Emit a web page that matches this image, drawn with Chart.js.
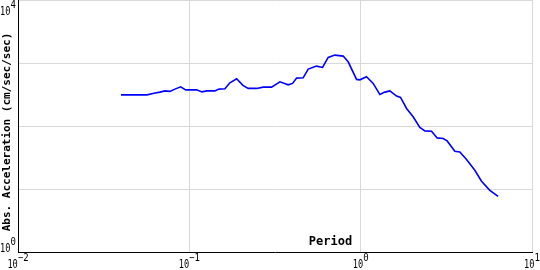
<!DOCTYPE html>
<html>
<head>
<meta charset="utf-8">
<script src="https://cdn.jsdelivr.net/npm/chart.js@4.4.1/dist/chart.umd.min.js"></script>
<style>
    html, body { margin: 0; padding: 0; background: #ffffff; }
    #wrap { width: 540px; height: 270px; }
</style>
</head>
<body>
<div id="wrap"><canvas id="spectrum" width="540" height="270"></canvas></div>
<script>
// periodo (sec) y aceleracion absoluta (cm/sec/sec)
const periods = [
    0.0399, 0.0566, 0.0622, 0.0674, 0.0720, 0.0770, 0.0824, 0.0890, 0.0952, 0.1103,
    0.1184, 0.1262, 0.1410, 0.1489, 0.1613, 0.1725, 0.1888, 0.2055, 0.2206, 0.2470,
    0.2699, 0.3021, 0.3378, 0.3776, 0.4005, 0.4227, 0.4618, 0.4940, 0.5528, 0.5993,
    0.6462, 0.7071, 0.7906, 0.8454, 0.9465, 0.9892, 1.082, 1.183, 1.294, 1.384,
    1.481, 1.620, 1.709, 1.853, 2.024, 2.215, 2.370, 2.593, 2.795, 3.029,
    3.197, 3.545, 3.792, 4.149, 4.638, 5.075, 5.674, 6.341
];
const accel = [
    312, 312, 332, 345, 361, 354, 385, 418, 375, 375,
    348, 361, 361, 385, 389, 485, 561, 441, 395, 395,
    414, 414, 503, 450, 474, 575, 582, 800, 893, 851,
    1227, 1335, 1287, 1045, 549, 541, 604, 474, 317, 345,
    361, 298, 284, 190, 140, 94.7, 83.6, 82.7, 64.7, 63.3,
    58.0, 39.8, 38.7, 29.3, 19.8, 13.3, 9.5, 7.65
];

// ticks (potencias de 10)
const xTickExp = [-2, -1, 0, 1];
const yTickExp = [0, 1, 2, 3, 4];
const yLabelExp = [0, 4]; // solo se rotulan los extremos

const xTitle = "Period";
const yTitle = "Abs. Acceleration (cm/sec/sec)";

const monoFont = "'DejaVu Sans Mono', monospace";

// dibuja "10" + exponente en pequeño
function drawPow(ctx, x, y, exp, align) {
    ctx.save();
    ctx.textBaseline = "alphabetic";
    ctx.textAlign = "left";
    ctx.fillStyle = "#000000";
    const sx = 0.72;
    const ex = 0.9;
    ctx.font = "12px " + monoFont;
    const baseW = ctx.measureText("10").width * sx;
    ctx.font = "10px " + monoFont;
    const expTxt = String(exp).replace("-", "\u2212");
    const expW = ctx.measureText(expTxt).width * ex;
    const total = baseW + expW;
    let left = x;
    if (align === "center") left = x - total / 2;
    if (align === "right") left = x - total;

    ctx.save();
    ctx.translate(left, y);
    ctx.scale(sx, 1);
    ctx.font = "12px " + monoFont;
    ctx.fillText("10", 0, 0);
    ctx.restore();

    ctx.save();
    ctx.translate(left + baseW, y - 7);
    ctx.scale(ex, 1);
    ctx.font = "10px " + monoFont;
    ctx.fillText(expTxt, 0, 0);
    ctx.restore();
    ctx.restore();
}

const labelsPlugin = {
    id: "labelsPlugin",
    afterDraw(chart) {
        const ctx = chart.ctx;
        const xs = chart.scales.x;
        const ys = chart.scales.y;

        // rotulos eje x
        xTickExp.forEach((e) => {
            drawPow(ctx, xs.getPixelForValue(Math.pow(10, e)), 268, e, "center");
        });

        // rotulos eje y (el de arriba queda empujado hacia abajo)
        yLabelExp.forEach((e) => {
            let py = ys.getPixelForValue(Math.pow(10, e));
            if (py < 15) py = 15;
            drawPow(ctx, 0, py, e, "left");
        });

        ctx.save();
        ctx.fillStyle = "#000000";
        ctx.font = "bold 12px " + monoFont;
        ctx.textAlign = "center";
        ctx.textBaseline = "middle";
        ctx.fillText(xTitle, 330.5, 242);

        ctx.translate(7.5, 132);
        ctx.rotate(-Math.PI / 2);
        ctx.font = "bold 11px " + monoFont;
        ctx.fillText(yTitle, 0, 0);
        ctx.restore();
    },
};

const canvas = document.getElementById("spectrum");

new Chart(canvas, {
    type: "line",
    data: {
        datasets: [
            {
                label: "PSA",
                data: periods.map((p, i) => ({ x: p, y: accel[i] })),
                borderColor: "#0000ff",
                backgroundColor: "#0000ff",
                borderWidth: 1.6,
                pointRadius: 0,
                tension: 0,
                fill: false,
            },
        ],
    },
    options: {
        responsive: false,
        devicePixelRatio: 1,
        animation: false,
        layout: {
            padding: { left: 18, right: 8, top: 0, bottom: 18 },
        },
        plugins: {
            legend: { display: false },
            tooltip: { enabled: false },
        },
        scales: {
            x: {
                type: "logarithmic",
                min: 0.01,
                max: 10,
                afterBuildTicks: (scale) => {
                    scale.ticks = xTickExp.map((e) => ({ value: Math.pow(10, e) }));
                },
                ticks: { display: false },
                grid: { color: "#d9d9d9", lineWidth: 1, drawTicks: false },
                border: { display: true, color: "#000000", width: 1 },
            },
            y: {
                type: "logarithmic",
                min: 1,
                max: 10000,
                afterBuildTicks: (scale) => {
                    scale.ticks = yTickExp.map((e) => ({ value: Math.pow(10, e) }));
                },
                ticks: { display: false },
                grid: { color: "#d9d9d9", lineWidth: 1, drawTicks: false },
                border: { display: true, color: "#000000", width: 1 },
            },
        },
    },
    plugins: [labelsPlugin],
});
</script>
</body>
</html>
